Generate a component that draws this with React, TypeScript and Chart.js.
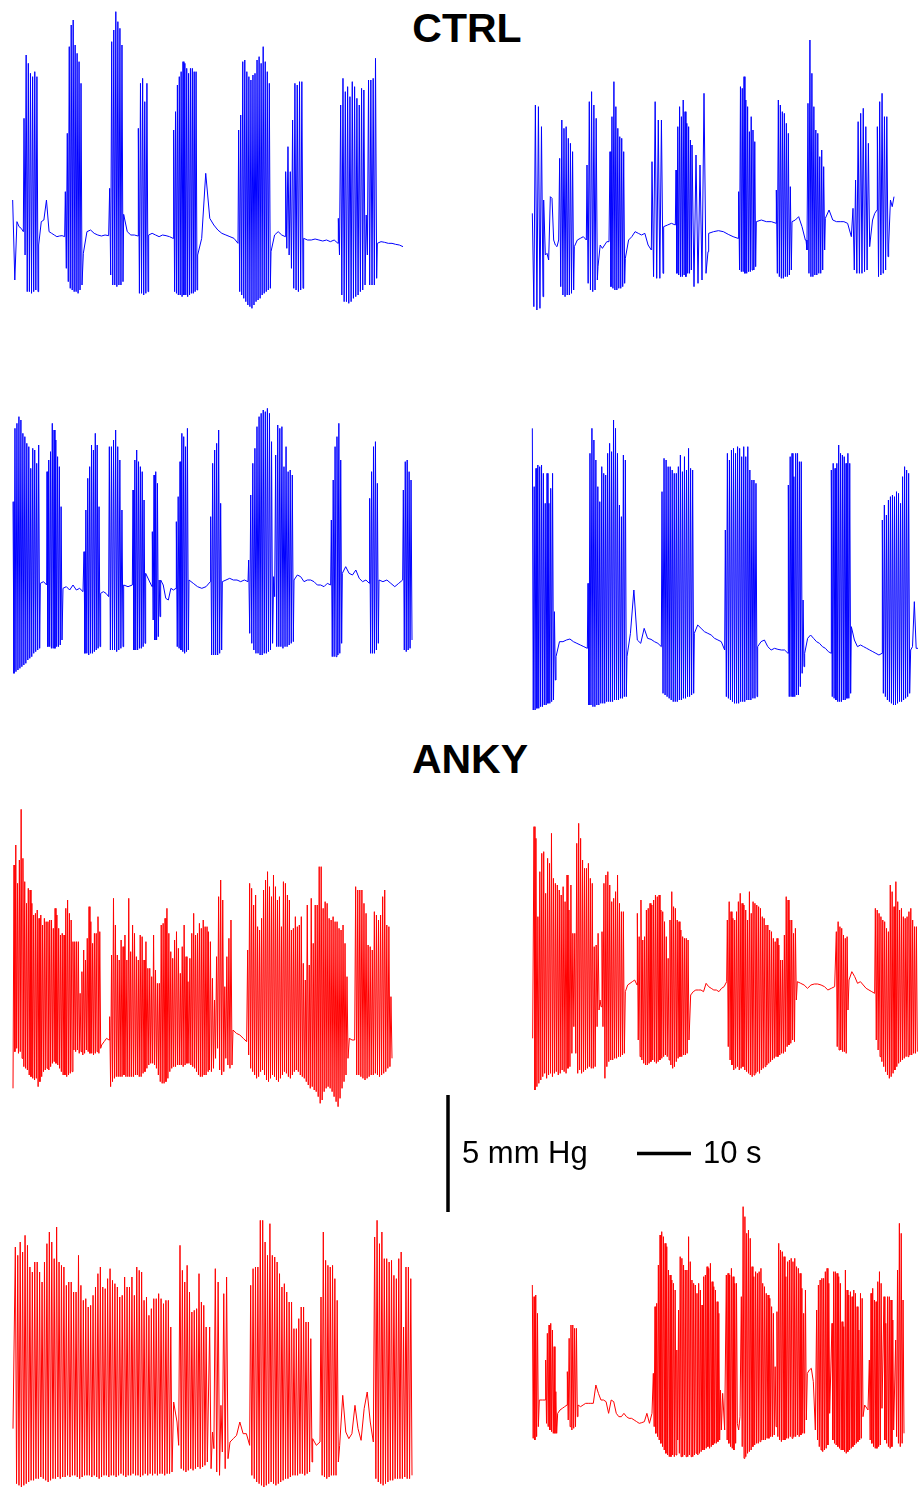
import React, { useEffect, useRef } from "react";
import { Chart, registerables } from "chart.js";

Chart.register(...registerables);

// Units: time in 1/16.2 s (10 s = 162 units); pressure in 1/70.2 mmHg (5 mmHg = 351 units),
// pressure measured from each trace's resting baseline.
// Segment = [tStart, tEnd, values, lows?]; values are evenly spaced in time.
// When "lows" is present, values are the cycle peaks and lows the cycle troughs (interleaved).
type Seg = [number, number, number[], number[]?];

const BLUE = "#0000ff";
const RED = "#ff0000";
const SCALE_PRESSURE_MMHG = 5;
const SCALE_TIME_S = 10;
const UNITS_PER_S = 16.2;
const UNITS_PER_MMHG = 70.2;

const ctrlTopLeft: Seg[] = [
  [14, 46, [105, -135, 40, 25, 20, 10]],
  [48, 90, [350, -60, 540, -170, 515, -170, 485, -175, 475, -170, 490, -165, 475, -170]],
  [92, 170, [-30, 40, 45, 105, 10, 5, 0, -5, -3, -2, -5]],
  [172, 222, [130, -100, 305, -140, 565, -160, 630, -165, 645, -170, 570, -170, 545, -175, 520, -165, 455, -150]],
  [226, 302, [-55, 10, 15, 5, 0, -3, 0, -2]],
  [305, 345, [140, -120, 580, -150, 615, -150, 670, -155, 640, -150, 620, -150, 570, -140]],
  [347, 390, [62, 10, 0, 0, -3]],
  [391, 420, [320, -175, 455, -175, 470, -180, 400, -175, 455, -170]],
  [422, 495, [0, 5, 0, -5, 0, -2, -5, -10]],
  [497, 567, [315, -170, 370, -175, 450, -180, 475, -180, 490, -185, 520, -180, 515, -180, 500, -185, 485, -180, 500, -175, 500, -175, 490, -170, 490, -165]],
  [569, 690, [-60, -10, 185, 50, 30, 15, 5, 0, -5, -10, -25]],
  [692, 787, [315, -170, 360, -180, 520, -190, 525, -200, 490, -210, 475, -215, 465, -220, 480, -210, 485, -200, 525, -195, 535, -190, 515, -180, 565, -175, 520, -170, 490, -165, 455, -160]],
  [789, 832, [-50, 0, 10, 0, -5]],
  [833, 885, [190, -40, 265, -60, 190, -100, 345, -160, 455, -165, 450, -170, 460, -165, 460, -160]],
  [887, 990, [-10, -15, -15, -12, -15, -18, -15, -20, -15, -25]],
  [991, 1106, [50, -60, 390, -180, 470, -200, 430, -200, 445, -205, 415, -200, 460, -190, 445, -185, 410, -180, 390, -170, 440, -165, 435, -150, 60, -60, 465, -150, 465, -150, 470, -150, 530, -130]],
  [1108, 1185, [-25, -20, -22, -25, -25, -28, -30, -35]],
];

const ctrlTopRight: Seg[] = [
  [13, 45, [80, -200, 405, -210, 400, -205, 340, -170]],
  [47, 92, [120, -45, -40, -60, 130, 125, 0, -15, -20, 0]],
  [95, 137, [245, -140, 360, -165, 335, -170, 340, -165, 305, -165, 290, -160, 265, -150]],
  [139, 175, [-20, 0, 5, 10, 0]],
  [177, 208, [225, -130, 415, -150, 445, -155, 405, -150, 365, -120]],
  [210, 243, [-80, -15, -25, -15, -5, -5]],
  [246, 290, [265, -140, 370, -145, 475, -150, 400, -150, 335, -145, 310, -145, 305, -140, 265, -130]],
  [292, 370, [-55, 0, 10, 25, 20, 15, 20, -15, -30]],
  [372, 405, [235, -110, 415, -115, 360, -115, 360, -100]],
  [407, 442, [40, 45, 50, 45]],
  [444, 490, [210, -100, 340, -105, 400, -110, 370, -110, 420, -105, 385, -110, 350, -100, 340, -100, 300, -90]],
  [492, 540, [285, -140, 255, -130, 225, -120, 440, -100, -35]],
  [542, 630, [20, 25, 28, 25, 17, 10, 5]],
  [632, 683, [145, -90, 460, -95, 455, -95, 490, -100, 420, -100, 400, -95, 325, -95, 370, -90, 330, -90, 295, -80]],
  [685, 745, [55, 60, 55, 55, 50]],
  [745, 790, [150, -100, 420, -110, 405, -115, 385, -115, 380, -110, 350, -110, 320, -105, 160, -90]],
  [792, 832, [55, 60, 70, 40, 0]],
  [834, 890, [0, -30, 410, -100, 600, -110, 500, -110, 400, -105, 330, -105, 320, -100, 250, -100, 270, -90, 220, -30]],
  [892, 970, [65, 90, 60, 55, 55, 55, 50, 10]],
  [975, 1025, [95, -90, 180, -100, 355, -100, 380, -100, 395, -95, 340, -90, 290, -20]],
  [1027, 1047, [0, 60, 80, 90]],
  [1048, 1080, [340, -110, 415, -105, 440, -100, 370, -90, 370, -50]],
  [1082, 1098, [-15, 120, 100, 130]],
];

const ctrlBottomLeft: Seg[] = [
  [15, 95, [245, -270, 465, -265, 480, -260, 500, -255, 490, -250, 450, -245, 440, -240, 420, -230, 410, -225, 345, -220, 405, -210, 400, -205, 360, -200, 415, -195]],
  [97, 116, [0, 5, -5]],
  [117, 162, [335, -190, 370, -190, 395, -195, 480, -195, 460, -195, 430, -190, 380, -190, 350, -185, 230, -170]],
  [165, 225, [-15, -10, -20, -5, -20, -15, -25]],
  [228, 276, [95, -210, 220, -210, 315, -215, 350, -210, 415, -210, 400, -205, 450, -200, 415, -195, 230, -190]],
  [278, 302, [-30, -25, -30, -40]],
  [304, 345, [410, -200, 410, -200, 430, -200, 460, -205, 410, -200, 370, -195, 220, -190]],
  [347, 373, [-5, -10, -5]],
  [375, 411, [280, -200, 370, -200, 400, -200, 365, -195, 350, -195, 335, -190, 250, -180]],
  [413, 432, [30, 10, -10]],
  [433, 456, [155, -110, 325, -170, 335, -170, 300, -160, 10, -100]],
  [458, 504, [10, -5, -45, -50, -15, -20, -15]],
  [505, 541, [185, -190, 260, -195, 365, -200, 450, -205, 440, -210, 410, -205, 465, -200]],
  [543, 607, [10, 0, -10, -15, -10, 5]],
  [608, 641, [200, -215, 360, -215, 400, -215, 420, -215, 460, -210, 240, -200]],
  [643, 720, [5, 10, 15, 10, 10, 5, 10, 5]],
  [722, 800, [70, -150, 265, -180, 360, -200, 405, -210, 470, -210, 500, -215, 510, -215, 520, -210, 515, -210, 525, -205, 510, -200, 425, -180, 20, -40]],
  [803, 856, [385, -190, 475, -190, 465, -190, 470, -195, 350, -190, 410, -190, 335, -185, 340, -180, 325, -175]],
  [858, 968, [10, 25, 20, 5, 10, 10, 5, -5, -5, -10, 0, -5]],
  [970, 1001, [190, -220, 310, -220, 410, -220, 440, -215, 480, -210, 370, -180]],
  [1003, 1084, [30, 50, 30, 25, 40, 15, 5, 10, 0]],
  [1085, 1111, [255, -210, 335, -210, 410, -210, 425, -200, 300, -180]],
  [1113, 1184, [10, 5, 10, 0, -10, 0, 10]],
  [1186, 1212, [280, -200, 365, -205, 370, -200, 335, -195, 310, -170]],
];

const ctrlBottomRight: Seg[] = [
  [13, 82, [655, -190, 480, -190, 535, -185, 545, -185, 540, -180, 545, -180, 520, -175, 430, -175, 520, -170, 430, -170, 475, -165, 520, -160, 105, -100]],
  [84, 178, [-30, 15, 15, 20, 23, 15, 10, 5, 0, -5]],
  [180, 295, [190, -175, 580, -175, 655, -180, 620, -180, 560, -175, 480, -175, 435, -170, 540, -170, 520, -170, 515, -165, 580, -165, 610, -165, 585, -165, 680, -160, 655, -160, 580, -160, 425, -155, 390, -155, 575, -150, 560, -150]],
  [297, 400, [-30, 40, 170, 20, 10, 55, 25, 22, 15, 10, 0]],
  [402, 497, [465, -140, 565, -145, 560, -150, 540, -155, 540, -160, 530, -165, 520, -165, 520, -165, 540, -160, 575, -160, 525, -155, 570, -155, 530, -150, 595, -150, 535, -145, 530, -140]],
  [499, 590, [40, 65, 55, 45, 40, 35, 25, 20, 15, -10]],
  [592, 687, [350, -150, 580, -155, 560, -160, 590, -165, 595, -170, 580, -170, 600, -170, 595, -165, 570, -165, 600, -165, 570, -160, 600, -160, 530, -160, 500, -155, 500, -155, 490, -150]],
  [689, 780, [0, 15, 20, 0, -10, -5, -8, -10, -10, -20]],
  [781, 828, [485, -150, 570, -150, 580, -150, 510, -150, 580, -145, 580, -145, 555, -120, 555, -80, 140, -60]],
  [830, 910, [-20, 25, 35, 25, 15, 10, 0, -5, -15, -20]],
  [910, 968, [530, -150, 550, -155, 535, -160, 550, -165, 605, -165, 580, -165, 575, -160, 570, -160, 550, -155, 580, -155, 550, -140]],
  [970, 1062, [60, 20, 0, 5, 0, -5, -10, -15, -20, -25, -20]],
  [1063, 1145, [380, -140, 425, -150, 395, -160, 440, -165, 450, -170, 455, -175, 450, -175, 465, -170, 460, -165, 430, -165, 510, -160, 540, -155, 530, -150, 520, -140]],
  [1148, 1170, [-10, 0, 135, -5, -5]],
];

const ankyTopLeft: Seg[] = [
  [15, 15, [-150]],
  [18, 278,
    [520, 580, 465, 535, 687, 540, 470, 405, 450, 445, 405, 370, 375, 385, 360, 370, 340, 360, 350, 350, 355, 355, 330, 390, 370, 330, 310, 315, 310, 390, 415, 375, 355, 290, 290, 290, 290, 135, 200, 265, 235, 300, 395, 350, 285, 315, 315, 365, 320],
    [-40, -30, -45, -40, -60, -85, -90, -95, -110, -115, -120, -125, -120, -145, -130, -115, -100, -95, -90, -95, -85, -75, -70, -75, -80, -90, -100, -110, -110, -115, -110, -105, -100, -35, -40, -35, -45, -40, -50, -45, -35, -40, -45, -45, -50, -45, -40, -45, -30]],
  [281, 303, [-20, -10, 0, -5]],
  [305, 600,
    [65, 250, 420, 340, 250, 235, 295, 275, 310, 235, 420, 260, 340, 315, 245, 235, 310, 305, 235, 290, 210, 210, 185, 310, 205, 165, 165, 340, 345, 360, 390, 315, 260, 240, 295, 320, 270, 195, 275, 340, 245, 170, 240, 315, 375, 310, 315, 345, 330, 355, 335, 335],
    [-145, -130, -120, -115, -115, -115, -115, -110, -115, -115, -115, -115, -115, -110, -110, -115, -115, -105, -100, -90, -80, -75, -75, -80, -90, -110, -130, -135, -135, -130, -120, -100, -90, -85, -85, -80, -80, -80, -85, -80, -75, -75, -80, -85, -90, -100, -110, -115, -115, -110, -110, -100]],
  [601, 672,
    [320, 290, 180, 115, 245, 425, 475, 415, 155, 245, 300, 355],
    [-95, -100, -90, -60, -30, -95, -110, -100, -60, -80, -90, -80]],
  [675, 716, [25, 15, 10, 0, -10]],
  [719, 1020,
    [265, 465, 450, 400, 430, 335, 325, 360, 445, 475, 500, 455, 425, 490, 455, 415, 425, 335, 470, 465, 430, 415, 325, 330, 365, 335, 340, 365, 225, 175, 400, 220, 420, 285, 400, 400, 515, 515, 390, 410, 405, 360, 355, 365, 350, 350, 330, 325, 340, 285, 185],
    [-50, -90, -100, -110, -120, -115, -100, -95, -110, -125, -130, -120, -110, -115, -125, -130, -120, -110, -100, -105, -115, -120, -110, -100, -95, -100, -110, -115, -120, -130, -140, -150, -145, -155, -160, -175, -195, -185, -160, -150, -145, -150, -160, -175, -190, -205, -180, -150, -130, -110, -60]],
  [1024, 1040, [0, -5, -5]],
  [1043, 1152,
    [455, 445, 445, 445, 405, 375, 280, 275, 265, 380, 370, 355, 370, 425, 445, 340, 335, 125],
    [-110, -110, -115, -120, -125, -120, -115, -110, -110, -105, -110, -115, -110, -105, -100, -90, -85, -60]],
];

const ankyTopRight: Seg[] = [
  [14, 14, [-145]],
  [18, 289,
    [490, 455, 220, 355, 410, 415, 290, 395, 380, 470, 335, 320, 315, 300, 285, 310, 265, 345, 240, 315, 170, 170, 440, 500, 455, 390, 365, 365, 380, 335, 320, 130, 135, 170, -30, 175, 320, 345, 355, 315, 265, 275, 295, 345, 260, 235, 235],
    [-300, -290, -280, -270, -260, -250, -265, -255, -250, -260, -250, -245, -255, -250, -240, -245, -250, -235, -230, -190, -110, -190, -250, -240, -250, -245, -240, -235, -230, -235, -235, -230, -110, -60, -50, -110, -265, -230, -215, -210, -210, -205, -205, -200, -200, -195, -190]],
  [292, 327, [-5, 15, 20, 25, 30, 15]],
  [328, 483,
    [230, 160, 270, 150, 160, 240, 245, 260, 255, 270, 285, 280, 285, 240, 235, 205, 160, 95, 210, 295, 250, 245, 210, 205, 180, 160, 155, 155, 150],
    [-150, -200, -210, -220, -225, -225, -220, -215, -210, -215, -220, -215, -210, -205, -200, -195, -200, -210, -225, -235, -230, -215, -205, -200, -200, -195, -195, -190, -150]],
  [488, 596, [-15, -5, 0, 0, 0, -5, 20, 10, 5, 0, 0, -5, 5, 10, 25]],
  [598, 805,
    [210, 265, 235, 215, 210, 235, 265, 290, 260, 255, 240, 210, 295, 230, 265, 260, 255, 250, 245, 220, 215, 195, 195, 180, 175, 155, 145, 155, 135, 90, 90, 165, 280, 270, 210, 210, 170, 185],
    [-170, -210, -225, -240, -235, -230, -240, -235, -230, -240, -245, -250, -255, -260, -255, -250, -245, -250, -240, -235, -230, -225, -220, -215, -210, -205, -200, -200, -195, -190, -190, -185, -170, -165, -160, -150, -155, -30]],
  [808, 920, [25, 20, 15, 5, 15, 18, 18, 15, 10, 0, 5, 10]],
  [925, 960,
    [175, 205, 190, 185, 165, 155, 160],
    [-170, -180, -180, -185, -185, -190, -60]],
  [963, 1040, [30, 55, 40, 20, 25, 15, 5, 0, -5, -10]],
  [1042, 1168,
    [245, 240, 230, 220, 210, 205, 185, 175, 315, 295, 250, 325, 265, 240, 245, 220, 215, 220, 235, 245, 210, 190, 190],
    [-150, -180, -200, -215, -230, -245, -255, -265, -260, -250, -240, -230, -220, -215, -210, -205, -200, -200, -195, -195, -190, -190, -185]],
];

const ankyBottomLeft: Seg[] = [
  [15, 15, [40]],
  [22, 492,
    [585, 560, 600, 570, 620, 590, 525, 510, 540, 540, 510, 480, 540, 595, 630, 600, 550, 645, 540, 530, 525, 470, 480, 480, 450, 450, 560, 470, 425, 430, 405, 410, 440, 465, 505, 525, 465, 460, 490, 520, 485, 475, 465, 435, 440, 495, 465, 465, 495, 440, 525, 515, 510, 425, 435, 380, 400, 430, 430, 445, 430, 415, 425, 425, 345],
    [-125, -130, -135, -130, -125, -120, -115, -115, -110, -110, -105, -110, -115, -120, -115, -110, -110, -105, -110, -105, -105, -100, -105, -100, -100, -105, -110, -105, -100, -100, -100, -105, -100, -105, -110, -105, -100, -100, -105, -100, -100, -105, -100, -95, -100, -105, -100, -100, -95, -100, -100, -105, -100, -95, -100, -95, -100, -95, -100, -95, -95, -100, -95, -95, -90]],
  [497, 512, [120, 90, 60, -10]],
  [516, 598,
    [590, 515, 480, 530, 450, 390, 395, 400, 505, 420, 410, 345],
    [-80, -85, -90, -85, -80, -85, -80, -75, -80, -75, -70, -60]],
  [605, 660,
    [345, 30, 520, 480, 110, 445, 495],
    [-80, -20, -90, -100, -30, -80, -50]],
  [666, 725, [0, 10, 20, 60, 25, 25, -10]],
  [728, 912,
    [470, 520, 525, 525, 665, 665, 600, 560, 655, 560, 555, 540, 505, 465, 475, 450, 420, 420, 340, 340, 370, 405, 405, 360, 360, 310],
    [-100, -110, -120, -125, -130, -135, -130, -125, -120, -125, -130, -125, -120, -115, -110, -110, -105, -100, -100, -100, -95, -95, -100, -95, -90, -60]],
  [914, 936, [10, -10, 0]],
  [939, 991,
    [435, 630, 545, 530, 525, 530, 490, 425],
    [-100, -105, -110, -105, -100, -100, -100, -60]],
  [995, 1096, [-10, 140, 30, 10, 25, 110, 40, 5, 100, 150, 60, 0]],
  [1100, 1212,
    [615, 665, 595, 630, 550, 550, 540, 545, 500, 490, 550, 570, 345, 525, 525, 490],
    [-110, -120, -125, -130, -125, -120, -115, -115, -110, -110, -110, -110, -105, -110, -110, -100]],
];

const ankyBottomRight: Seg[] = [
  [13, 31, [365, 330, 335, 280], [-95, -100, -90, -60]],
  [34, 52, [20, 20, 20]],
  [53, 86, [140, 220, 245, 250, 230, 180, 45], [-50, -60, -70, -75, -80, -80, -80]],
  [89, 117, [-20, -10, -5, 0, 5]],
  [118, 148, [105, 205, 245, 245, 235, 235], [-40, -60, -70, -65, -60, -30]],
  [150, 372, [5, 0, 5, 10, 10, 10, 10, 65, 40, 20, 20, 15, -20, 20, 15, -20, -30, -30, -20, -30, -35, -35, -40, -45, -50, -48, -45, -20, -50, -20]],
  [376, 580,
    [100, 300, 310, 425, 515, 525, 510, 490, 480, 410, 395, 380, 370, 350, 170, 290, 450, 445, 425, 410, 410, 510, 435, 380, 370, 365, 340, 370, 350, 305, 390, 395, 420, 415, 430, 375, 360, 350, 315, 280, 50],
    [-60, -80, -90, -100, -110, -120, -130, -140, -145, -150, -150, -145, -150, -145, -100, -140, -150, -150, -145, -150, -150, -145, -150, -150, -145, -140, -145, -140, -135, -130, -130, -125, -120, -125, -120, -115, -110, -110, -105, -100, -70]],
  [584, 590, [40, -70]],
  [595, 628, [395, 400, 395, 415, 390, 370, 370], [-100, -110, -120, -125, -130, -110, -50]],
  [632, 636, [-70, -30]],
  [640, 835,
    [330, 600, 570, 520, 530, 505, 420, 390, 405, 400, 405, 415, 370, 360, 340, 335, 325, 300, 280, 120, 285, 490, 470, 465, 450, 390, 435, 440, 445, 435, 445, 420, 415, 400, 355, 280, 350],
    [-120, -155, -150, -140, -135, -130, -120, -115, -110, -110, -105, -100, -100, -100, -95, -95, -90, -90, -85, -60, -90, -100, -105, -100, -100, -95, -95, -90, -95, -90, -90, -85, -90, -85, -80, -80, -40]],
  [838, 862, [100, 110, 115, 75, -70]],
  [866, 905, [290, 365, 380, 385, 385, 405, 415, 370], [-100, -120, -130, -135, -130, -125, -115, -20]],
  [912, 1005,
    [250, 405, 405, 400, 390, 370, 255, 240, 410, 350, 335, 345, 330, 350, 340, 300, 230, 340, 325],
    [-100, -110, -115, -120, -125, -130, -130, -135, -140, -135, -130, -125, -120, -115, -110, -105, -100, -95, -30]],
  [1010, 1020, [5, -10]],
  [1024, 1062, [140, 340, 355, 320, 315, 375, 405, 370], [-100, -110, -120, -125, -125, -120, -115, -5]],
  [1068, 1097, [330, 250, 330, 330, 320, 260], [-100, -110, -120, -125, -120, -70]],
  [1103, 1128, [200, 410, 550, 520, 320], [-90, -110, -120, -110, -80]],
];

type Pt = { x: number; y: number };

function buildPoints(segs: Seg[]): Pt[] {
  const pts: Pt[] = [];
  for (const [t0, t1, a, b] of segs) {
    const vals: number[] = [];
    if (b) {
      a.forEach((p, i) => {
        vals.push(p);
        if (i < b.length) vals.push(b[i]);
      });
    } else {
      vals.push(...a);
    }
    const n = vals.length;
    vals.forEach((y, i) => {
      pts.push({ x: n === 1 ? t0 : t0 + ((t1 - t0) * i) / (n - 1), y });
    });
  }
  return pts;
}

type Panel = {
  segs: Seg[];
  color: string;
  left: number;
  top: number;
  width: number;
  height: number;
  yMax: number;
};

const PANELS: Panel[] = [
  { segs: ctrlTopLeft, color: BLUE, left: 8, top: 5, width: 400, height: 310, yMax: 690 },
  { segs: ctrlTopRight, color: BLUE, left: 528, top: 40, width: 372, height: 275, yMax: 600 },
  { segs: ctrlBottomLeft, color: BLUE, left: 8, top: 400, width: 410, height: 285, yMax: 550 },
  { segs: ctrlBottomRight, color: BLUE, left: 528, top: 420, width: 390, height: 295, yMax: 680 },
  { segs: ankyTopLeft, color: RED, left: 8, top: 800, width: 400, height: 310, yMax: 715 },
  { segs: ankyTopRight, color: RED, left: 528, top: 820, width: 390, height: 275, yMax: 510 },
  { segs: ankyBottomLeft, color: RED, left: 8, top: 1212, width: 410, height: 276, yMax: 690 },
  { segs: ankyBottomRight, color: RED, left: 528, top: 1200, width: 390, height: 265, yMax: 620 },
];

const PX_PER_UNIT = 1 / 3;

function baseOptions(xMin: number, xMax: number, yMin: number, yMax: number): any {
  return {
    animation: false,
    responsive: false,
    maintainAspectRatio: false,
    events: [],
    layout: { padding: 0 },
    plugins: {
      legend: { display: false },
      tooltip: { enabled: false },
      title: { display: false },
    },
    scales: {
      x: { type: "linear", display: false, min: xMin, max: xMax },
      y: { type: "linear", display: false, min: yMin, max: yMax },
    },
    elements: { point: { radius: 0 }, line: { tension: 0 } },
  };
}

function TraceChart({ panel }: { panel: Panel }) {
  const ref = useRef<HTMLCanvasElement>(null);
  useEffect(() => {
    const unitsW = panel.width / PX_PER_UNIT;
    const unitsH = panel.height / PX_PER_UNIT;
    const chart = new Chart(ref.current!, {
      type: "line",
      data: {
        datasets: [
          {
            data: buildPoints(panel.segs) as any,
            borderColor: panel.color,
            borderWidth: 1,
            pointRadius: 0,
            fill: false,
            tension: 0,
          },
        ],
      },
      options: baseOptions(0, unitsW, panel.yMax - unitsH, panel.yMax),
    });
    return () => chart.destroy();
  }, [panel]);
  return (
    <canvas
      ref={ref}
      width={panel.width}
      height={panel.height}
      style={{ position: "absolute", left: panel.left, top: panel.top, width: panel.width, height: panel.height }}
    />
  );
}

const SCALE_BOX = { left: 440, top: 1090, width: 260, height: 130 };

function ScaleBars() {
  const ref = useRef<HTMLCanvasElement>(null);
  useEffect(() => {
    const pxPerS = UNITS_PER_S * PX_PER_UNIT;
    const pxPerMmHg = UNITS_PER_MMHG * PX_PER_UNIT;
    const xMin = -8 / pxPerS;
    const xMax = xMin + SCALE_BOX.width / pxPerS;
    const yMin = -8 / pxPerMmHg;
    const yMax = yMin + SCALE_BOX.height / pxPerMmHg;
    const chart = new Chart(ref.current!, {
      type: "line",
      data: {
        datasets: [
          {
            data: [
              { x: 0, y: 0 },
              { x: 0, y: SCALE_PRESSURE_MMHG },
            ],
            borderColor: "#000",
            borderWidth: 3.5,
            pointRadius: 0,
            borderCapStyle: "butt",
          },
          {
            data: [
              { x: 35, y: 2.5 },
              { x: 35 + SCALE_TIME_S, y: 2.5 },
            ],
            borderColor: "#000",
            borderWidth: 3.5,
            pointRadius: 0,
            borderCapStyle: "butt",
          },
        ],
      },
      options: baseOptions(xMin, xMax, yMin, yMax),
    });
    return () => chart.destroy();
  }, []);
  return (
    <canvas
      ref={ref}
      width={SCALE_BOX.width}
      height={SCALE_BOX.height}
      style={{ position: "absolute", left: SCALE_BOX.left, top: SCALE_BOX.top, width: SCALE_BOX.width, height: SCALE_BOX.height }}
    />
  );
}

const FONT = '"Liberation Sans", Arial, Helvetica, sans-serif';

export default function App() {
  return (
    <div style={{ position: "absolute", left: 0, top: 0, width: 918, height: 1488, background: "#fff", overflow: "hidden" }}>
      <div style={{ position: "absolute", left: 0, width: 934, top: 8, textAlign: "center", font: `bold 41px/41px ${FONT}`, color: "#000" }}>
        CTRL
      </div>
      <div style={{ position: "absolute", left: 0, width: 940, top: 739, textAlign: "center", font: `bold 41px/41px ${FONT}`, color: "#000" }}>
        ANKY
      </div>
      {PANELS.map((p, i) => (
        <TraceChart key={i} panel={p} />
      ))}
      <ScaleBars />
      <div style={{ position: "absolute", left: 462, top: 1137, font: `31px/31px ${FONT}`, color: "#000", whiteSpace: "nowrap" }}>
        5 mm Hg
      </div>
      <div style={{ position: "absolute", left: 703, top: 1137, font: `31px/31px ${FONT}`, color: "#000", whiteSpace: "nowrap" }}>
        10 s
      </div>
    </div>
  );
}
